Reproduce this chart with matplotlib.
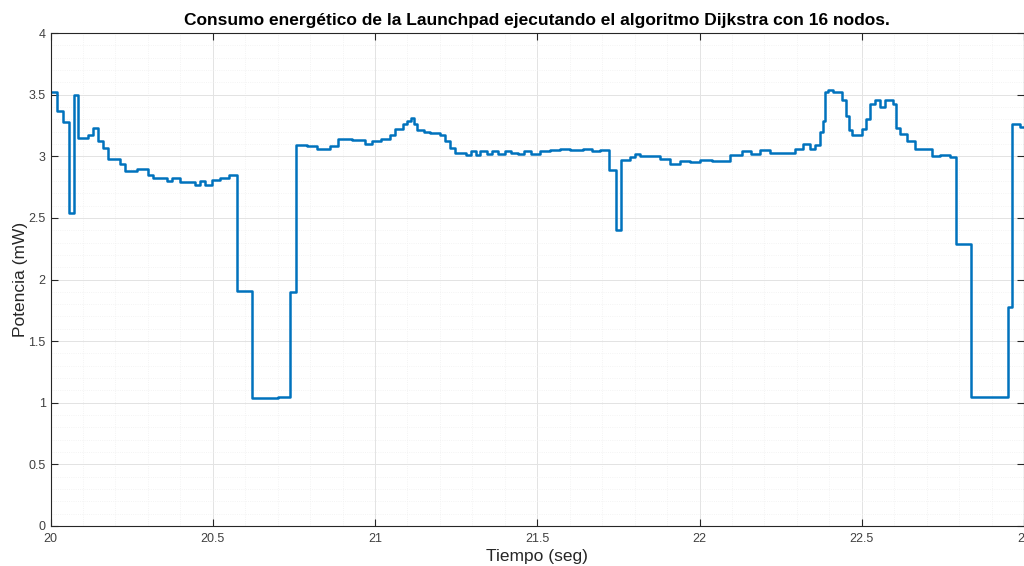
import numpy as np
import matplotlib
matplotlib.use('Agg')
import matplotlib.pyplot as plt
from matplotlib.ticker import MultipleLocator

# instantes de cambio (seg) y potencia (mW) en cada tramo
tiempo= [20.000, 20.019, 20.039, 20.058, 20.071, 20.086, 20.116, 20.131, 20.146, 20.162,
         20.178, 20.214, 20.230, 20.266, 20.301, 20.317, 20.358, 20.373, 20.399, 20.445,
         20.460, 20.476, 20.497, 20.522, 20.551, 20.576, 20.622, 20.700, 20.738, 20.757,
         20.790, 20.820, 20.861, 20.886, 20.930, 20.969, 20.990, 21.020, 21.046, 21.062,
         21.085, 21.100, 21.111, 21.120, 21.130, 21.150, 21.170, 21.200, 21.216, 21.231,
         21.246, 21.280, 21.295, 21.310, 21.325, 21.345, 21.360, 21.380, 21.400, 21.420,
         21.440, 21.460, 21.480, 21.509, 21.540, 21.571, 21.600, 21.640, 21.670, 21.694,
         21.721, 21.743, 21.757, 21.786, 21.801, 21.817, 21.878, 21.909, 21.940, 21.971,
         22.002, 22.038, 22.094, 22.130, 22.160, 22.186, 22.217, 22.248, 22.294, 22.319,
         22.340, 22.356, 22.371, 22.380, 22.388, 22.396, 22.411, 22.439, 22.451, 22.461,
         22.470, 22.485, 22.501, 22.513, 22.525, 22.541, 22.556, 22.571, 22.596, 22.605,
         22.618, 22.640, 22.664, 22.716, 22.741, 22.772, 22.790, 22.836, 22.952, 22.964,
         22.988, 23.000]
potencia= [3.52, 3.37, 3.28, 2.54, 3.50, 3.15, 3.17, 3.23, 3.12, 3.07,
           2.98, 2.94, 2.88, 2.90, 2.85, 2.82, 2.80, 2.82, 2.79, 2.77,
           2.80, 2.77, 2.81, 2.82, 2.85, 1.91, 1.04, 1.05, 1.90, 3.09,
           3.08, 3.06, 3.08, 3.14, 3.13, 3.10, 3.12, 3.14, 3.17, 3.22,
           3.26, 3.29, 3.31, 3.26, 3.21, 3.20, 3.19, 3.17, 3.12, 3.07,
           3.03, 3.01, 3.04, 3.01, 3.04, 3.02, 3.04, 3.02, 3.04, 3.03,
           3.02, 3.04, 3.02, 3.04, 3.05, 3.06, 3.05, 3.06, 3.04, 3.05,
           2.89, 2.40, 2.97, 2.99, 3.02, 3.00, 2.98, 2.94, 2.96, 2.95,
           2.97, 2.96, 3.01, 3.04, 3.02, 3.05, 3.03, 3.03, 3.06, 3.10,
           3.06, 3.09, 3.20, 3.29, 3.52, 3.54, 3.52, 3.46, 3.33, 3.21,
           3.17, 3.17, 3.22, 3.30, 3.42, 3.46, 3.40, 3.46, 3.42, 3.23,
           3.18, 3.12, 3.06, 3.00, 3.01, 2.99, 2.29, 1.05, 1.78, 3.26,
           3.24, 3.24]

xticks= [20, 20.5, 21, 21.5, 22, 22.5, 23]
xlabels= ['20', '20.5', '21', '21.5', '22', '22.5', '23']
yticks= [0, 0.5, 1, 1.5, 2, 2.5, 3, 3.5, 4]
ylabels= ['0', '0.5', '1', '1.5', '2', '2.5', '3', '3.5', '4']

plt.rcParams['font.family']= ['Liberation Sans', 'DejaVu Sans']
gris= '#262626'

fig= plt.figure(figsize=(10.24, 5.66), dpi=100)
ax= fig.add_axes([50.5/1024, 40/566, 973.5/1024, 493/566])

ax.plot(tiempo, potencia, drawstyle='steps-post', color='#0072BD', lw=1.8)

ax.set_xlim(20, 23)
ax.set_ylim(0, 4)
ax.set_xticks(xticks)
ax.set_xticklabels(xlabels)
ax.set_yticks(yticks)
ax.set_yticklabels(ylabels)
ax.xaxis.set_minor_locator(MultipleLocator(0.1))
ax.yaxis.set_minor_locator(MultipleLocator(0.1))

ax.grid(which='major', color='#e3e3e3', lw=0.7)
ax.grid(which='minor', color='#f0f0f0', lw=0.6, ls=':')
ax.set_axisbelow(True)

for s in ax.spines.values():
	s.set_color(gris)
	s.set_linewidth(0.8)
ax.tick_params(which='major', direction='in', length=5, width=0.8, color=gris,
               labelcolor='#404040', labelsize=9, top=True, right=True)
ax.tick_params(axis='x', pad=5)
ax.tick_params(which='minor', length=0)

ax.set_title('Consumo energético de la Launchpad ejecutando el algoritmo Dijkstra con 16 nodos.',
             fontsize=12.5, fontweight='bold', pad=6)
ax.set_xlabel('Tiempo (seg)', fontsize=12.5, color=gris, labelpad=3)
ax.set_ylabel('Potencia (mW)', fontsize=12.5, color=gris, labelpad=0)

fig.savefig('out.png', dpi=100)
